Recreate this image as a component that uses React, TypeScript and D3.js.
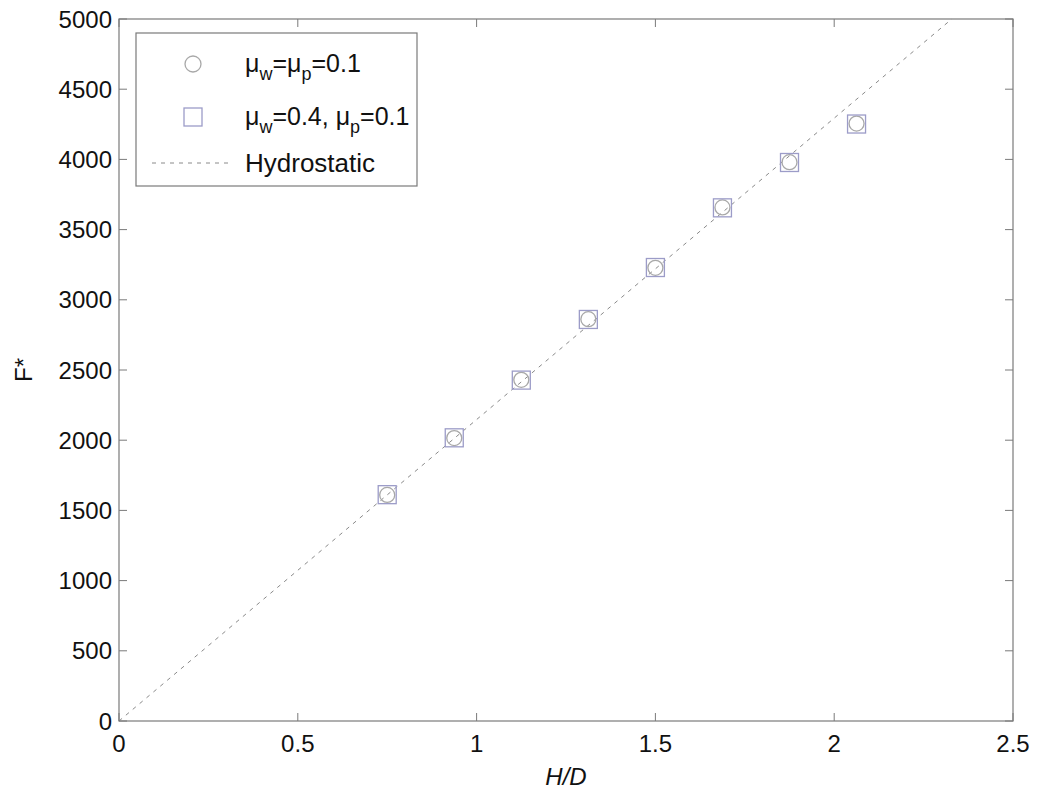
import React from "react";
import * as d3 from "d3";

const hdValues = [0.75, 0.9375, 1.125, 1.3125, 1.5, 1.6875, 1.875, 2.0625];
const fCircle = [1610, 2015, 2430, 2862, 3228, 3658, 3980, 4255];
const fSquare = [1612, 2017, 2428, 2860, 3230, 3655, 3978, 4252];
const hydroSlope = 2147;
const xTicks = [0, 0.5, 1, 1.5, 2, 2.5];
const yTicks = [0, 500, 1000, 1500, 2000, 2500, 3000, 3500, 4000, 4500, 5000];

const W = 1038;
const H = 792;
const L = 119, R = 1013, T = 19, B = 721;

export default function App() {
  const x = d3.scaleLinear().domain([0, 2.5]).range([L, R]);
  const y = d3.scaleLinear().domain([0, 5000]).range([B, T]);
  const xEnd = 5000 / hydroSlope;
  const line = d3.line<number>().x((d) => x(d)).y((d) => y(hydroSlope * d));
  const font = "'Liberation Sans', Arial, sans-serif";
  const axisCol = "#7a7a7a";
  const circCol = "#a8a8a8";
  const sqCol = "#9c9cc8";
  const tickLen = 8;
  return (
    <svg width={W} height={H} style={{ position: "absolute", left: 0, top: 0, background: "#fff" }} fontFamily={font}>
      <rect x={0} y={0} width={W} height={H} fill="#fff" />
      <path d={line([0, xEnd]) || ""} fill="none" stroke="#8a8a8a" strokeWidth={1} strokeDasharray="4,5" />
      {hdValues.map((h, i) => (
        <circle key={"c" + i} cx={x(h)} cy={y(fCircle[i])} r={7.5} fill="none" stroke={circCol} strokeWidth={1.3} />
      ))}
      {hdValues.map((h, i) => (
        <rect key={"s" + i} x={x(h) - 9} y={y(fSquare[i]) - 9} width={18} height={18} fill="none" stroke={sqCol} strokeWidth={1.3} />
      ))}
      <rect x={L} y={T} width={R - L} height={B - T} fill="none" stroke={axisCol} strokeWidth={1.2} />
      {xTicks.map((t) => (
        <g key={"xt" + t}>
          <line x1={x(t)} x2={x(t)} y1={B} y2={B - tickLen} stroke={axisCol} />
          <line x1={x(t)} x2={x(t)} y1={T} y2={T + tickLen} stroke={axisCol} />
          <text x={x(t)} y={752} textAnchor="middle" fontSize={24} fill="#111">{t}</text>
        </g>
      ))}
      {yTicks.map((t) => (
        <g key={"yt" + t}>
          <line x1={L} x2={L + tickLen} y1={y(t)} y2={y(t)} stroke={axisCol} />
          <line x1={R} x2={R - tickLen} y1={y(t)} y2={y(t)} stroke={axisCol} />
          <text x={112} y={y(t) + 8.5} textAnchor="end" fontSize={24} fill="#111">{t}</text>
        </g>
      ))}
      <text x={(L + R) / 2} y={785} textAnchor="middle" fontSize={24} fontStyle="italic" fill="#111">H/D</text>
      <text transform={`translate(32,${(T + B) / 2}) rotate(-90)`} textAnchor="middle" fontSize={24} fill="#111">F*</text>
      <rect x={136} y={33} width={281} height={153} fill="#fff" stroke={axisCol} strokeWidth={1.2} />
      <circle cx={193} cy={64} r={8} fill="none" stroke={circCol} strokeWidth={1.3} />
      <rect x={184} y={108} width={18} height={18} fill="none" stroke={sqCol} strokeWidth={1.3} />
      <line x1={152} x2={233} y1={163} y2={163} stroke="#8a8a8a" strokeDasharray="4,5" />
      <text x={245} y={72} fontSize={25} fill="#111">
        μ<tspan dy={8} fontSize={18}>w</tspan><tspan dy={-8}>=μ</tspan><tspan dy={8} fontSize={18}>p</tspan><tspan dy={-8}>=0.1</tspan>
      </text>
      <text x={245} y={125} fontSize={25} fill="#111">
        μ<tspan dy={8} fontSize={18}>w</tspan><tspan dy={-8}>=0.4, μ</tspan><tspan dy={8} fontSize={18}>p</tspan><tspan dy={-8}>=0.1</tspan>
      </text>
      <text x={245} y={172} fontSize={26} fill="#111">Hydrostatic</text>
    </svg>
  );
}
